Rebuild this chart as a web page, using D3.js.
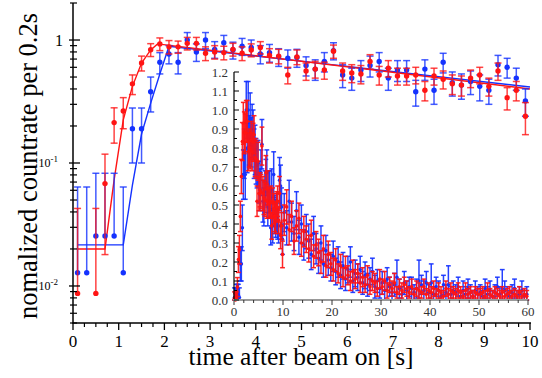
<!DOCTYPE html>
<html><head><meta charset="utf-8">
<script src="https://cdn.jsdelivr.net/npm/d3@7"></script>
<style>body{margin:0;background:#fff}svg{display:block}</style>
</head><body>
<svg id="c" width="542" height="378"></svg>
<script>
// ---------- data ----------
const mainTime = [0.1,0.3,0.5,0.7,0.9,1.1,1.3,1.5,1.7,1.9,
  2.1,2.3,2.5,2.7,2.9,3.1,3.3,3.5,3.7,3.9,
  4.1,4.3,4.5,4.7,4.9,5.1,5.3,5.5,5.7,5.9,
  6.1,6.3,6.5,6.7,6.9,7.1,7.3,7.5,7.7,7.9,
  8.1,8.3,8.5,8.7,8.9,9.1,9.3,9.5,9.7,9.9];
const blueMain = [0.0128,0.0128,0.0255,0.0255,0.0255,0.0128,0.19,0.19,0.38,0.66,
  0.77,0.66,1.0,0.80,1.0,0.84,0.95,0.83,0.89,0.87,
  0.77,0.79,0.73,0.71,0.72,0.62,0.58,0.67,0.82,0.52,
  0.49,0.57,0.62,0.67,0.49,0.57,0.57,0.38,0.58,0.39,
  0.66,0.45,0.43,0.46,0.42,0.39,0.63,0.60,0.49,0.32];
const blueMainErr = [0.051,0.051,0.057,0.057,0.057,0.051,0.09,0.09,0.12,0.13,
  0.13,0.13,0.15,0.13,0.15,0.13,0.14,0.13,0.14,0.13,
  0.13,0.13,0.12,0.12,0.12,0.11,0.11,0.12,0.13,0.11,
  0.10,0.11,0.12,0.12,0.10,0.11,0.11,0.09,0.11,0.09,
  0.12,0.10,0.10,0.10,0.10,0.09,0.12,0.11,0.10,0.08];
const redMain = [0.0087,0,0.0087,0.068,0.213,0.265,0.44,0.65,0.834,0.93,
  0.88,0.88,0.94,0.94,0.78,0.80,0.79,0.84,0.78,0.83,
  0.87,0.75,0.74,0.52,0.73,0.56,0.58,0.57,0.81,0.56,
  0.54,0.53,0.67,0.52,0.59,0.51,0.51,0.52,0.39,0.51,
  0.48,0.44,0.43,0.49,0.52,0.42,0.56,0.34,0.39,0.24];
const redMainErr = [0.034,0.034,0.034,0.05,0.068,0.075,0.08,0.09,0.10,0.11,
  0.11,0.10,0.11,0.11,0.10,0.10,0.10,0.10,0.10,0.10,
  0.10,0.10,0.10,0.08,0.10,0.09,0.09,0.09,0.10,0.09,
  0.09,0.09,0.09,0.09,0.09,0.08,0.08,0.08,0.07,0.08,
  0.08,0.08,0.08,0.08,0.08,0.07,0.09,0.07,0.07,0.07];

const redFitTime = [0.1,0.7,0.9,1.1,1.3,1.5,1.7,1.85,10];
const redFit     = [0.02,0.02,0.073,0.224,0.42,0.65,0.83,0.93,0.40];
const blueFitTime = [0.1,1.1,1.3,1.5,1.7,1.9,2.1,10];
const blueFit     = [0.0216,0.0216,0.066,0.172,0.307,0.53,0.89,0.415];

// inset tail (t > 10 s), bin centres 10.25 ... 59.75
const tailTime = d3.range(100).map(i => 10.25 + 0.5 * i);
const blueTail = [0.46,0.38,0.52,0.41,0.35,0.47,0.33,0.40,0.29,0.36,
  0.31,0.24,0.35,0.27,0.22,0.30,0.19,0.26,0.21,0.17,
  0.23,0.15,0.20,0.13,0.18,0.11,0.16,0.20,0.10,0.14,
  0.12,0.16,0.09,0.13,0.08,0.11,0.15,0.07,0.10,0.06,
  0.09,0.05,0.11,0.07,0.04,0.08,0.12,0.06,0.03,0.09,
  0.05,0.07,0.06,0.04,0.06,0.10,0.08,0.05,0.09,0.04,
  0.09,0.03,0.07,0.05,0.02,0.08,0.04,0.08,0.03,0.05,
  0.04,0.07,0.02,0.05,0.03,0.06,0.04,0.02,0.05,0.03,
  0.04,0.02,0.06,0.03,0.05,0.02,0.04,0.07,0.03,0.06,
  0.05,0.03,0.02,0.04,0.06,0.02,0.03,0.05,0.02,0.03];
const blueTailErr = [0.10,0.09,0.11,0.10,0.09,0.10,0.09,0.10,0.08,0.09,
  0.09,0.08,0.09,0.08,0.08,0.09,0.07,0.08,0.08,0.07,
  0.08,0.07,0.08,0.07,0.07,0.06,0.07,0.08,0.06,0.07,
  0.07,0.07,0.06,0.07,0.06,0.06,0.07,0.06,0.06,0.05,
  0.06,0.05,0.06,0.05,0.05,0.06,0.09,0.05,0.04,0.06,
  0.05,0.05,0.06,0.04,0.05,0.11,0.05,0.05,0.06,0.04,
  0.10,0.04,0.05,0.05,0.03,0.05,0.04,0.10,0.04,0.05,
  0.04,0.05,0.03,0.05,0.04,0.05,0.04,0.03,0.05,0.04,
  0.04,0.03,0.05,0.04,0.05,0.03,0.04,0.05,0.04,0.10,
  0.05,0.04,0.03,0.04,0.05,0.03,0.04,0.05,0.03,0.04];
const redTail = [0.42,0.49,0.37,0.44,0.31,0.39,0.43,0.30,0.36,0.32,
  0.27,0.34,0.23,0.29,0.25,0.20,0.27,0.18,0.24,0.19,
  0.16,0.21,0.14,0.18,0.12,0.17,0.13,0.10,0.15,0.11,
  0.14,0.09,0.12,0.08,0.13,0.07,0.10,0.09,0.06,0.11,
  0.07,0.10,0.05,0.08,0.06,0.09,0.04,0.07,0.05,0.08,
  0.06,0.04,0.07,0.03,0.06,0.05,0.04,0.07,0.03,0.05,
  0.04,0.06,0.03,0.05,0.04,0.02,0.06,0.03,0.05,0.04,
  0.03,0.05,0.04,0.02,0.05,0.03,0.04,0.02,0.04,0.03,
  0.03,0.04,0.02,0.05,0.03,0.02,0.04,0.03,0.02,0.04,
  0.02,0.03,0.04,0.02,0.03,0.02,0.04,0.02,0.03,0.02];
const redTailErr = [0.08,0.09,0.08,0.08,0.07,0.08,0.08,0.07,0.08,0.07,
  0.07,0.08,0.06,0.07,0.07,0.06,0.07,0.06,0.07,0.06,
  0.06,0.06,0.05,0.06,0.05,0.06,0.05,0.05,0.06,0.05,
  0.05,0.05,0.05,0.04,0.05,0.04,0.05,0.05,0.04,0.05,
  0.04,0.05,0.04,0.04,0.04,0.05,0.03,0.04,0.04,0.04,
  0.04,0.03,0.04,0.03,0.04,0.04,0.03,0.04,0.03,0.04,
  0.03,0.04,0.03,0.04,0.03,0.03,0.04,0.03,0.04,0.03,
  0.03,0.04,0.03,0.03,0.04,0.03,0.03,0.03,0.03,0.03,
  0.03,0.03,0.03,0.04,0.03,0.03,0.03,0.03,0.03,0.03,
  0.03,0.03,0.03,0.03,0.03,0.03,0.03,0.03,0.03,0.03];

const xTicks = [0,1,2,3,4,5,6,7,8,9,10];
const yMajor = [0.01,0.1,1];
const insetXTicks = [0,10,20,30,40,50,60];
const insetYTicks = [0,0.1,0.2,0.3,0.4,0.5,0.6,0.7,0.8,0.9,1.0,1.1,1.2];

const RED = "#ff1414", BLUE = "#1432ff";
const FONT = '"Liberation Serif"';

// ---------- main chart ----------
const svg = d3.select("#c");
const x = d3.scaleLinear().domain([0,10]).range([73,530]);
const y = d3.scaleLog().domain([0.005,2]).range([323,3]);

svg.append("defs").append("clipPath").attr("id","mc")
  .append("rect").attr("x",73).attr("y",3).attr("width",470).attr("height",320);

const gm = svg.append("g").attr("clip-path","url(#mc)");

function fitLine(ts, vs, color) {
  const pts = ts.map((t,i)=>[t,vs[i]]);
  gm.append("path").datum(pts)
    .attr("d", d3.line().x(d=>x(d[0])).y(d=>y(d[1])))
    .attr("fill","none").attr("stroke",color).attr("stroke-width",1.4);
}
fitLine(blueFitTime, blueFit, BLUE);
fitLine(redFitTime, redFit, RED);

function mainSeries(vals, errs, color) {
  const data = mainTime.map((t,i)=>({t, v: vals[i], e: errs[i]})).filter(d=>d.v>0);
  const g = gm.append("g").attr("stroke",color).attr("stroke-width",1.5).attr("stroke-opacity",0.8);
  data.forEach(d=>{
    const top = y(d.v + d.e);
    const hasLow = d.v - d.e > 0;
    const bot = hasLow ? y(d.v - d.e) : y(d.v);
    const cx = x(d.t);
    g.append("line").attr("x1",cx).attr("x2",cx).attr("y1",top).attr("y2",bot);
    g.append("line").attr("x1",cx-3.5).attr("x2",cx+3.5).attr("y1",top).attr("y2",top);
    if (hasLow) g.append("line").attr("x1",cx-3.5).attr("x2",cx+3.5).attr("y1",bot).attr("y2",bot);
  });
  gm.append("g").selectAll("circle").data(data).join("circle")
    .attr("cx",d=>x(d.t)).attr("cy",d=>y(d.v)).attr("r",2.7).attr("fill",color);
}
mainSeries(blueMain, blueMainErr, BLUE);
mainSeries(redMain, redMainErr, RED);

// main axes
const axes = svg.append("g").attr("stroke","#000");
axes.append("line").attr("x1",73).attr("x2",73).attr("y1",3).attr("y2",323.5).attr("stroke-width",1.5);
axes.append("line").attr("x1",72.5).attr("x2",531).attr("y1",323).attr("y2",323).attr("stroke-width",1.5);

const xMinor = d3.range(0,10.001,0.25).filter(v=>Math.abs(v-Math.round(v))>1e-6);
axes.selectAll(".xmaj").data(xTicks).join("line").attr("class","xmaj")
  .attr("x1",d=>x(d)).attr("x2",d=>x(d)).attr("y1",323).attr("y2",330).attr("stroke-width",1.3);
axes.selectAll(".xmin").data(xMinor).join("line").attr("class","xmin")
  .attr("x1",d=>x(d)).attr("x2",d=>x(d)).attr("y1",323).attr("y2",327).attr("stroke-width",1.2);
svg.append("g").selectAll("text").data(xTicks).join("text")
  .attr("x",d=>x(d)).attr("y",347).attr("text-anchor","middle")
  .style("font-family",FONT).attr("font-size",17).text(d=>d);

const yMinor = [];
[0.001,0.01,0.1,1].forEach(dec=>{ for(let k=2;k<=9;k++){ const v=k*dec; if(v>=0.005 && v<=2.0001) yMinor.push(v);} });
axes.selectAll(".ymaj").data(yMajor).join("line").attr("class","ymaj")
  .attr("x1",69).attr("x2",80).attr("y1",d=>y(d)).attr("y2",d=>y(d)).attr("stroke-width",1.3);
axes.selectAll(".ymin").data(yMinor).join("line").attr("class","ymin")
  .attr("x1",70).attr("x2",77).attr("y1",d=>y(d)).attr("y2",d=>y(d)).attr("stroke-width",1.2);

const yl = svg.append("g");
yl.append("text").attr("x",63).attr("y",y(1)+5.5).attr("text-anchor","end")
  .style("font-family",FONT).attr("font-size",16).text("1");
[[0.1,"-1"],[0.01,"-2"]].forEach(([v,e])=>{
  const t = yl.append("text").attr("x",58).attr("y",y(v)+4).attr("text-anchor","end")
    .style("font-family",FONT).attr("font-size",12);
  t.append("tspan").text("10");
  t.append("tspan").attr("font-size",9).attr("dy",-5).text(e);
});

svg.append("text").attr("transform","translate(37,166) rotate(-90)")
  .attr("text-anchor","middle").style("font-family",FONT).attr("font-size",26.5)
  .text("nomalized countrate per 0.2s");
svg.append("text").attr("x",301).attr("y",365).attr("text-anchor","middle")
  .style("font-family",FONT).attr("font-size",25.5).text("time after beam on [s]");

// ---------- inset ----------
const xi = d3.scaleLinear().domain([0,60]).range([234,528]);
const yi = d3.scaleLinear().domain([0,1.2]).range([300,72]);
const gi = svg.append("g");

function insetSeries(times, vals, errs, color) {
  const data = times.map((t,i)=>({t, v: vals[i], e: errs[i]}));
  const g = gi.append("g").attr("stroke",color).attr("stroke-width",1.5).attr("stroke-opacity",0.92);
  data.forEach(d=>{
    const top = yi(d.v + d.e), bot = yi(Math.max(0, d.v - d.e)), cx = xi(d.t);
    g.append("line").attr("x1",cx).attr("x2",cx).attr("y1",top).attr("y2",bot);
    g.append("line").attr("x1",cx-2.4).attr("x2",cx+2.4).attr("y1",top).attr("y2",top);
    g.append("line").attr("x1",cx-2.4).attr("x2",cx+2.4).attr("y1",bot).attr("y2",bot);
  });
  gi.append("g").selectAll("circle").data(data).join("circle")
    .attr("cx",d=>xi(d.t)).attr("cy",d=>yi(d.v)).attr("r",1.8).attr("fill",color);
}
insetSeries(mainTime.concat(tailTime), blueMain.concat(blueTail), blueMainErr.concat(blueTailErr), BLUE);
insetSeries(mainTime.concat(tailTime), redMain.concat(redTail), redMainErr.concat(redTailErr), RED);

const ia = svg.append("g");
ia.append("line").attr("x1",234).attr("x2",234).attr("y1",72).attr("y2",300).attr("stroke","#000").attr("stroke-width",1.2);
ia.append("line").attr("x1",233).attr("x2",528).attr("y1",300).attr("y2",300).attr("stroke","#999").attr("stroke-width",2);
const iyMinor = d3.range(0.05,1.2,0.1);
ia.selectAll(".iyM").data(insetYTicks).join("line").attr("class","iyM")
  .attr("x1",234).attr("x2",239).attr("y1",d=>yi(d)).attr("y2",d=>yi(d)).attr("stroke","#000");
ia.selectAll(".iym").data(iyMinor).join("line").attr("class","iym")
  .attr("x1",234).attr("x2",237).attr("y1",d=>yi(d)).attr("y2",d=>yi(d)).attr("stroke","#000");
const ixMinor = d3.range(2,60,2).filter(v=>v%10!==0);
ia.selectAll(".ixM").data(insetXTicks).join("line").attr("class","ixM")
  .attr("x1",d=>xi(d)).attr("x2",d=>xi(d)).attr("y1",300).attr("y2",305).attr("stroke","#333");
ia.selectAll(".ixm").data(ixMinor).join("line").attr("class","ixm")
  .attr("x1",d=>xi(d)).attr("x2",d=>xi(d)).attr("y1",300).attr("y2",303).attr("stroke","#333");
ia.selectAll(".iyl").data(insetYTicks).join("text").attr("class","iyl")
  .attr("x",228).attr("y",d=>yi(d)+4.5).attr("text-anchor","end")
  .style("font-family",FONT).attr("font-size",13).attr("fill","#333")
  .text(d=>d3.format(".1f")(d));
ia.selectAll(".ixl").data(insetXTicks).join("text").attr("class","ixl")
  .attr("x",d=>xi(d)).attr("y",316).attr("text-anchor","middle")
  .style("font-family",FONT).attr("font-size",13).attr("fill","#333")
  .text(d=>d);
</script>
</body></html>
